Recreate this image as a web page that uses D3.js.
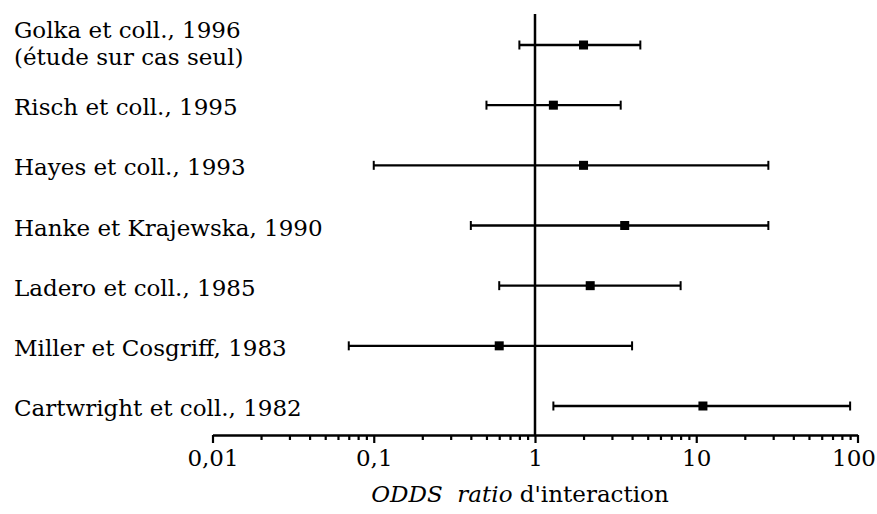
<!DOCTYPE html>
<html>
<head>
<meta charset="utf-8">
<script src="https://cdn.jsdelivr.net/npm/d3@7"></script>
<style>
  body { margin: 0; background: #fff; }
  text { font-family: "DejaVu Serif", serif; fill: #000; }
</style>
</head>
<body>
<div class="canvas"></div>
<script>
// studies, top to bottom
const studies = [
    'Golka et coll., 1996\n(étude sur cas seul)',
    'Risch et coll., 1995',
    'Hayes et coll., 1993',
    'Hanke et Krajewska, 1990',
    'Ladero et coll., 1985',
    'Miller et Cosgriff, 1983',
    'Cartwright et coll., 1982'
];
const oddsRatio = [2.0, 1.3, 2.0, 3.6, 2.2, 0.6, 11];
const ciLow = [0.8, 0.5, 0.1, 0.4, 0.6, 0.07, 1.3];
const ciHigh = [4.5, 3.4, 28, 28, 8, 4, 90];
const majorTicks = [0.01, 0.1, 1, 10, 100];
const tickLabels = ['0,01', '0,1', '1', '10', '100'];

const data = studies.map((s, i) => ({ study: s, or: oddsRatio[i], lo: ciLow[i], hi: ciHigh[i] }));

const width = 877;
const height = 514;
const fontSize = 23;

const svg = d3.select('.canvas')
    .append('svg')
    .attr('width', width)
    .attr('height', height);

// scales
const x = d3.scaleLog().domain([0.01, 100]).range([212.5, 857.5]);
const y = d3.scalePoint().domain(studies).range([45, 406]);
const axisY = 435;

// minor ticks
const minorTicks = x.ticks().filter(t => !majorTicks.includes(t));
svg.append('g')
    .attr('transform', `translate(0,${axisY})`)
    .call(d3.axisBottom(x).tickValues(minorTicks).tickSize(5).tickSizeOuter(0).tickFormat(''))
    .call(g => g.select('.domain').remove())
    .selectAll('line').attr('stroke', '#000').attr('stroke-width', 2.2);

// major ticks and axis line
const xAxisGroup = svg.append('g')
    .attr('transform', `translate(0,${axisY})`)
    .call(d3.axisBottom(x)
        .tickValues(majorTicks)
        .tickSize(8)
        .tickSizeOuter(0)
        .tickPadding(7)
        .tickFormat((d, i) => tickLabels[i]));

xAxisGroup.select('.domain').attr('stroke', '#000').attr('stroke-width', 2.5);
xAxisGroup.selectAll('line').attr('stroke', '#000').attr('stroke-width', 2.2);
xAxisGroup.selectAll('text')
    .style('font-family', '"DejaVu Serif", serif')
    .attr('font-size', fontSize)
    .attr('fill', '#000');
// keep the last label inside the frame
xAxisGroup.selectAll('text')
    .filter(d => d === 100)
    .attr('text-anchor', 'end')
    .attr('dx', 18);

// reference line at OR = 1
svg.append('line')
    .attr('x1', x(1)).attr('x2', x(1))
    .attr('y1', 14).attr('y2', axisY)
    .attr('stroke', '#000')
    .attr('stroke-width', 2.5);

// study labels
const labels = svg.append('g').selectAll('text')
    .data(data)
    .enter()
    .append('text')
    .attr('x', 14)
    .attr('y', d => y(d.study))
    .attr('font-size', fontSize);

labels.each(function(d) {
    const lines = d.study.split('\n');
    const first = lines.length > 1 ? -7 : 10;
    lines.forEach((line, j) => {
        d3.select(this).append('tspan')
            .attr('x', 14)
            .attr('dy', j === 0 ? first : 27)
            .text(line);
    });
});

// error bars
const rows = svg.append('g').selectAll('g')
    .data(data)
    .enter()
    .append('g')
    .attr('transform', d => `translate(0,${y(d.study)})`);

rows.append('line')
    .attr('x1', d => x(d.lo)).attr('x2', d => x(d.hi))
    .attr('stroke', '#000')
    .attr('stroke-width', 2.4);

rows.selectAll('.cap')
    .data(d => [d.lo, d.hi])
    .enter()
    .append('line')
    .attr('class', 'cap')
    .attr('x1', v => x(v)).attr('x2', v => x(v))
    .attr('y1', -4.5).attr('y2', 4.5)
    .attr('stroke', '#000')
    .attr('stroke-width', 2);

rows.append('rect')
    .attr('x', d => x(d.or) - 4.5)
    .attr('y', -4.5)
    .attr('width', 9)
    .attr('height', 9)
    .attr('fill', '#000');

// axis title
const title = svg.append('text')
    .attr('x', 520)
    .attr('y', 502)
    .attr('text-anchor', 'middle')
    .attr('font-size', fontSize);
title.append('tspan').attr('font-style', 'italic').text('ODDS\u00a0\u00a0ratio');
title.append('tspan').text(" d'interaction");
</script>
</body>
</html>
